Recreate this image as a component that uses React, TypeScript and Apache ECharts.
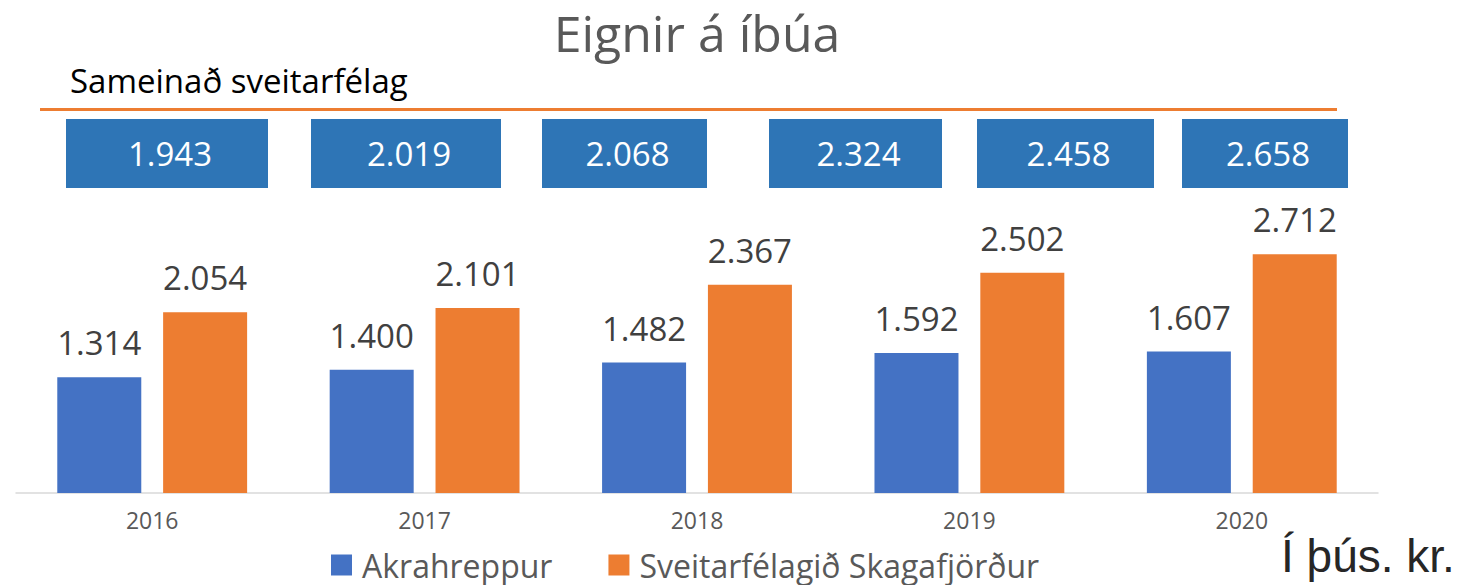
import React, { useEffect, useRef } from "react";
import * as echarts from "echarts";

const years = ["2016", "2017", "2018", "2019", "2020"];
const akrahreppur = [1314, 1400, 1482, 1592, 1607];
const skagafjordur = [2054, 2101, 2367, 2502, 2712];
const sameinad = [1943, 2019, 2068, 2324, 2458, 2658];
const seriesNames = ["Akrahreppur", "Sveitarfélagið Skagafjörður"];

const boxX = [66, 311, 542, 769, 977, 1182];
const boxW = [202, 190, 165, 173, 177, 166];

const fmt = (v: number) => String(v).replace(/\B(?=(\d{3})+(?!\d))/g, ".");
const FONT = "'Open Sans', 'Noto Sans', sans-serif";

export default function App() {
  const ref = useRef<HTMLDivElement>(null);
  useEffect(() => {
    if (!ref.current) return;
    const chart = echarts.init(ref.current, null, { renderer: "svg" });
    const boxes: any[] = [];
    sameinad.forEach((v, i) => {
      boxes.push({
        type: "rect",
        shape: { x: boxX[i], y: 119, width: boxW[i], height: 69 },
        style: { fill: "#2E75B6" },
      });
      boxes.push({
        type: "text",
        x: boxX[i] + boxW[i] / 2 + 3,
        y: 153,
        style: {
          text: fmt(v),
          fill: "#ffffff",
          font: `33px ${FONT}`,
          textAlign: "center",
          textVerticalAlign: "middle",
        },
      });
    });
    const labelCfg = {
      show: true,
      position: "top",
      distance: 18,
      color: "#404040",
      fontSize: 33,
      fontFamily: FONT,
      formatter: (p: any) => fmt(p.value),
    };
    chart.setOption({
      animation: false,
      backgroundColor: "#ffffff",
      textStyle: { fontFamily: FONT },
      grid: { left: 16, right: 103, top: 229, bottom: 92 },
      xAxis: {
        type: "category",
        data: years,
        axisLine: { lineStyle: { color: "#D9D9D9", width: 1.5 } },
        axisTick: { show: false },
        axisLabel: { color: "#595959", fontSize: 23, margin: 15, fontFamily: FONT },
      },
      yAxis: { type: "value", min: 0, max: 3000, show: false, splitLine: { show: false } },
      legend: {
        left: 326,
        top: 544,
        icon: "rect",
        itemWidth: 21,
        itemHeight: 21,
        itemGap: 56,
        data: seriesNames,
        textStyle: { color: "#595959", fontSize: 32, lineHeight: 32, fontFamily: FONT, padding: [0, 0, 0, 5] },
      },
      series: [
        {
          name: seriesNames[0],
          type: "bar",
          data: akrahreppur,
          barWidth: 84,
          barGap: "26%",
          itemStyle: { color: "#4472C4" },
          label: labelCfg,
        },
        {
          name: seriesNames[1],
          type: "bar",
          data: skagafjordur,
          barWidth: 84,
          itemStyle: { color: "#ED7D31" },
          label: labelCfg,
        },
      ],
      graphic: [
        {
          type: "text",
          x: 697,
          y: 33,
          style: {
            text: "Eignir á íbúa",
            fill: "#595959",
            font: `50px ${FONT}`,
            textAlign: "center",
            textVerticalAlign: "middle",
          },
        },
        {
          type: "text",
          x: 70,
          y: 80,
          style: {
            text: "Sameinað sveitarfélag",
            fill: "#000000",
            font: `33px ${FONT}`,
            textAlign: "left",
            textVerticalAlign: "middle",
          },
        },
        {
          type: "line",
          shape: { x1: 40, y1: 109.5, x2: 1337, y2: 109.5 },
          style: { stroke: "#ED7D31", lineWidth: 3 },
        },
        ...boxes,
        {
          type: "text",
          x: 1281,
          y: 556,
          style: {
            text: "Í þús. kr.",
            fill: "#262626",
            font: `46px 'Liberation Sans', Arial, sans-serif`,
            textAlign: "left",
            textVerticalAlign: "middle",
          },
        },
      ],
    });
    return () => chart.dispose();
  }, []);
  return (
    <div
      ref={ref}
      style={{ position: "fixed", left: 0, top: 0, width: 1481, height: 585 }}
    />
  );
}
